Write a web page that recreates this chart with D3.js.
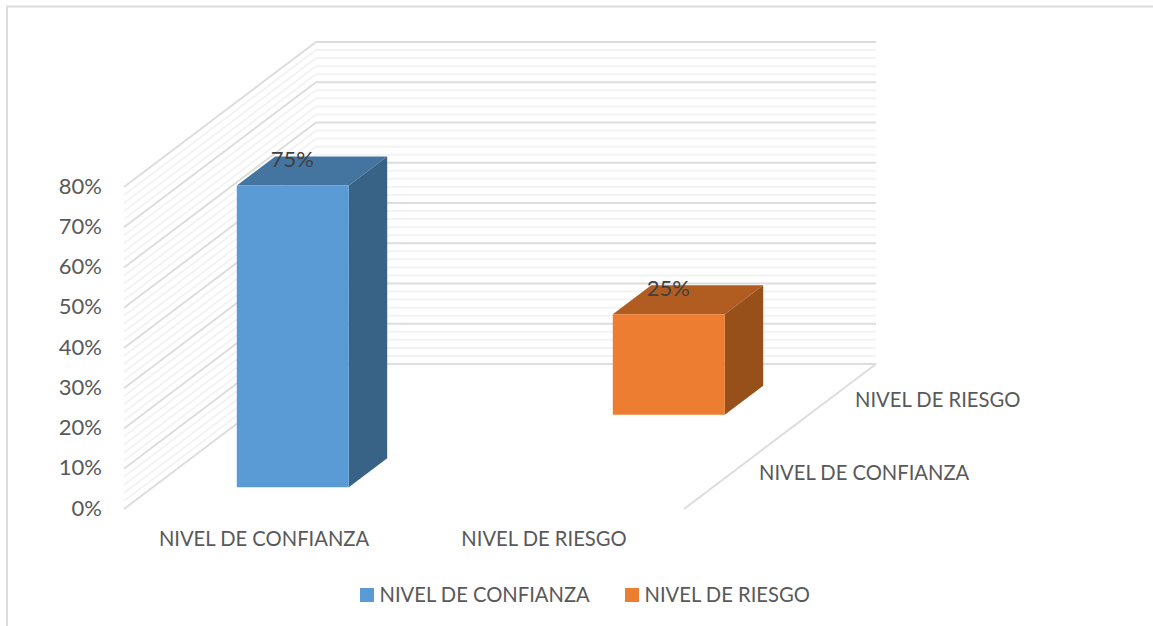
<!DOCTYPE html>
<html>
<head>
<meta charset="utf-8">
<script src="https://cdn.jsdelivr.net/npm/d3@7"></script>
<style>
    body { margin: 0; background: white; }
    svg { display: block; }
    text { font-family: Lato, "Open Sans", sans-serif; font-size: 20.2px; fill: #595959; }
</style>
</head>
<body>
<div id="chart"></div>
<script>
const categories = ["NIVEL DE CONFIANZA", "NIVEL DE RIESGO"];
const values = [75, 25];
const tickValues = [0, 10, 20, 30, 40, 50, 60, 70, 80];
const minorTicks = d3.range(0, 81, 2);
const frontColors = ["#5B9BD5", "#ED7D31"];
const topColors = ["#4474A0", "#B15D22"];
const sideColors = ["#386387", "#98501B"];

const chartSizings = {
    width: 1153,
    height: 626,
    floor: {left: 124, right: 684, bottom: 509},
    depth: {dx: 192, dy: -145}
};

const svg = d3.select("#chart")
              .append("svg")
              .attr("width", chartSizings.width)
              .attr("height", chartSizings.height);

const x = d3.scaleBand()
            .domain(categories)
            .range([chartSizings.floor.left, chartSizings.floor.right])
            .paddingInner(0.6)
            .paddingOuter(0.3);

// same categories running into the page, 0 = front and 1 = back wall
const z = d3.scaleBand()
            .domain(categories)
            .range([0, 1])
            .paddingInner(0.6)
            .paddingOuter(0.3);

const y = d3.scaleLinear()
            .domain([0, 80])
            .range([0, 322]);

// oblique projection: px along the width, pct up, t into the depth
const project = (px, pct, t) => [
    px + t * chartSizings.depth.dx,
    chartSizings.floor.bottom - y(pct) + t * chartSizings.depth.dy
];

const polygon = pts => pts.map(p => p.join(",")).join(" ");

// outer frame of the picture
svg.append("path")
   .attr("d", "M7,626V6.5H1153")
   .attr("fill", "none")
   .attr("stroke", "#dcdcdc")
   .attr("stroke-width", 2);

// walls
const left = chartSizings.floor.left;
const right = chartSizings.floor.right;

const drawGrid = (ticks, color) => {
    svg.append("g")
       .selectAll("polyline")
       .data(ticks)
       .join("polyline")
       .attr("points", d => polygon([project(left, d, 0), project(left, d, 1), project(right, d, 1)]))
       .attr("fill", "none")
       .attr("stroke", color)
       .attr("stroke-width", 2);
};

drawGrid(minorTicks.filter(d => d % 10 !== 0), "#f3f3f3");
drawGrid(tickValues, "#dddddd");

// floor edge on the right
svg.append("polyline")
   .attr("points", polygon([project(right, 0, 1), project(right, 0, 0)]))
   .attr("fill", "none")
   .attr("stroke", "#dddddd")
   .attr("stroke-width", 2);

// bars
const bars = svg.append("g")
                .selectAll("g")
                .data(categories.map((c, i) => ({category: c, value: values[i], i: i})))
                .join("g");

bars.each(function(d) {
    const g = d3.select(this);
    const x0 = x(d.category);
    const x1 = x0 + x.bandwidth();
    const z0 = z(d.category);
    const z1 = z0 + z.bandwidth();

    g.append("polygon")
     .attr("points", polygon([project(x0, d.value, z0), project(x0, d.value, z1), project(x1, d.value, z1), project(x1, d.value, z0)]))
     .attr("fill", topColors[d.i]);
    g.append("polygon")
     .attr("points", polygon([project(x1, 0, z0), project(x1, 0, z1), project(x1, d.value, z1), project(x1, d.value, z0)]))
     .attr("fill", sideColors[d.i]);
    g.append("polygon")
     .attr("points", polygon([project(x0, 0, z0), project(x1, 0, z0), project(x1, d.value, z0), project(x0, d.value, z0)]))
     .attr("fill", frontColors[d.i]);

    const front = project((x0 + x1) / 2, d.value, z0);
    g.append("text")
     .attr("x", front[0] - 0.5)
     .attr("y", front[1] - 18)
     .attr("text-anchor", "middle")
     .style("font-size", "22px")
     .style("fill", "#404040")
     .text(d.value + "%");
});

// value axis
const yAxis = d3.axisLeft(d3.scaleLinear().domain(y.domain()).range([chartSizings.floor.bottom, chartSizings.floor.bottom - 322]))
                .tickValues(tickValues)
                .tickFormat(d => d + "%")
                .tickSize(0)
                .tickPadding(22);

const yAxisG = svg.append("g")
                  .attr("transform", `translate(${left},-1)`)
                  .call(yAxis);
yAxisG.select(".domain").remove();
yAxisG.selectAll("text").style("font-size", "22px");

// category axis along the front edge
const xAxisG = svg.append("g")
                  .attr("transform", `translate(0,${chartSizings.floor.bottom})`)
                  .call(d3.axisBottom(x).tickSize(0).tickPadding(23));
xAxisG.select(".domain").remove();
xAxisG.selectAll("text").style("font-size", "20.2px");

// category labels along the depth edge
svg.append("g")
   .selectAll("text")
   .data(categories)
   .join("text")
   .attr("x", d => project(right, 0, z(d) + z.bandwidth() / 2)[0] + 27)
   .attr("y", d => project(right, 0, z(d) + z.bandwidth() / 2)[1])
   .attr("dy", "0.35em")
   .text(d => d);

// legend
const legendX = [360, 625];
const legend = svg.append("g")
                  .selectAll("g")
                  .data(categories)
                  .join("g")
                  .attr("transform", (d, i) => `translate(${legendX[i]},588)`);

legend.append("rect")
      .attr("width", 14)
      .attr("height", 14)
      .attr("fill", (d, i) => frontColors[i]);

legend.append("text")
      .attr("x", 19.5)
      .attr("y", 7)
      .attr("dy", "0.35em")
      .text(d => d);
</script>
</body>
</html>
